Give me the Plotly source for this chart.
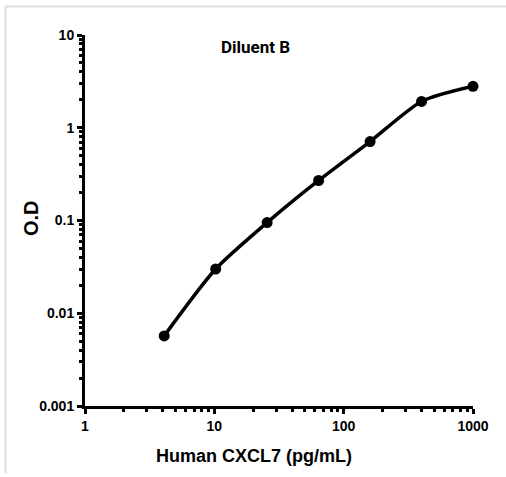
import plotly.graph_objects as go

concentration = [4.096, 10.24, 25.6, 64, 160, 400, 1000]
od_values = [0.0057, 0.030, 0.095, 0.27, 0.71, 1.92, 2.8]
x_tick_vals = [1, 10, 100, 1000]
x_tick_text = ["1", "10", "100", "1000"]
y_tick_vals = [0.001, 0.01, 0.1, 1, 10]
y_tick_text = ["0.001", "0.01", "0.1", "1", "10"]
x_minor_vals = [m * 10 ** d for d in range(0, 3) for m in range(2, 10)]
y_minor_vals = [m * 10.0 ** d for d in range(-3, 1) for m in range(2, 10)]

W, H = 506, 477
L, R, T, B = 85, 33, 35, 71
PW, PH = W - L - R, H - T - B


def px_x(px):
    return (px - L) / PW


def px_y(py):
    return (H - B - py) / PH


fig = go.Figure()
fig.add_trace(go.Scatter(
    x=concentration, y=od_values, mode="lines+markers",
    line=dict(color="black", width=3.5, shape="spline", smoothing=0.7),
    marker=dict(color="black", size=11),
    showlegend=False, cliponaxis=False,
))

FONT = "Liberation Sans"
tickfont = dict(family=FONT, size=14, color="black", weight="bold")
axis_common = dict(
    type="log", showgrid=False, zeroline=False,
    showline=True, linecolor="black", linewidth=3,
    ticks="outside", ticklen=5, tickwidth=3, tickcolor="black",
    tickfont=tickfont,
)
fig.update_layout(
    width=W, height=H,
    margin=dict(l=L, r=R, t=T, b=B, autoexpand=False),
    paper_bgcolor="white", plot_bgcolor="white",
    xaxis=dict(axis_common, range=[0, 3],
               tickvals=x_tick_vals, ticktext=x_tick_text,
               minor=dict(tickvals=x_minor_vals, ticks="outside", ticklen=3,
                          tickwidth=3, tickcolor="black", showgrid=False)),
    yaxis=dict(axis_common, range=[-3, 1],
               tickvals=y_tick_vals, ticktext=y_tick_text,
               minor=dict(tickvals=y_minor_vals, ticks="outside", ticklen=3,
                          tickwidth=3, tickcolor="black", showgrid=False)),
    annotations=[
        dict(text="Diluent B", xref="paper", yref="paper", x=px_x(255), y=px_y(47),
             xanchor="center", yanchor="middle", showarrow=False,
             font=dict(family="Roboto", size=17, color="black", weight=700)),
        dict(text="Human CXCL7 (pg/mL)", xref="paper", yref="paper", x=px_x(254), y=px_y(456),
             xanchor="center", yanchor="middle", showarrow=False,
             font=dict(family=FONT, size=18, color="black", weight="bold")),
        dict(text="O.D", xref="paper", yref="paper", x=px_x(31), y=px_y(218),
             xanchor="center", yanchor="middle", showarrow=False, textangle=-90,
             font=dict(family=FONT, size=20, color="black", weight="bold")),
    ],
    shapes=[
        dict(type="line", xref="paper", yref="paper",
             x0=px_x(5.5), x1=px_x(W), y0=px_y(6.5), y1=px_y(6.5),
             line=dict(color="#dddddd", width=2)),
        dict(type="line", xref="paper", yref="paper",
             x0=px_x(5.5), x1=px_x(5.5), y0=px_y(6.5), y1=px_y(473),
             line=dict(color="#dddddd", width=2)),
    ],
)

fig.write_html("out.html", config={"displayModeBar": False},
               post_script="document.body.style.margin='0';document.body.style.overflow='hidden';")
